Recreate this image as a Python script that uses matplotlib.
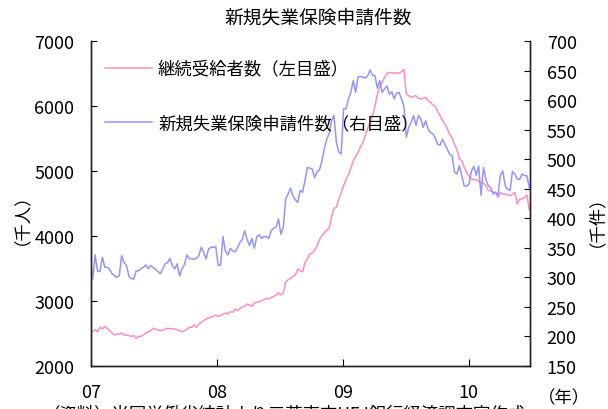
import matplotlib

matplotlib.use("Agg")

import matplotlib.pyplot as plt
import matplotlib.dates as mdates
import pandas as pd
from matplotlib.ticker import FixedLocator

plt.rcParams["font.family"] = ["Noto Sans CJK JP", "DejaVu Sans"]

# 週次データ（2006/12/30 週～2010/6/26 週）
# 継続受給者数（千人）
continuing_07 = [2528, 2528, 2559, 2528, 2595, 2569, 2610, 2580, 2544, 2508,
                 2477, 2492, 2492, 2508, 2477, 2477, 2467, 2456, 2467, 2426,
                 2456, 2456, 2477, 2508, 2528, 2544, 2580, 2569, 2555, 2544,
                 2550, 2569, 2580, 2575, 2569, 2569, 2559, 2544, 2528, 2544,
                 2559, 2595, 2595, 2631, 2595, 2646, 2672, 2700, 2723, 2740,
                 2749, 2764, 2785]
continuing_08 = [2764, 2774, 2800, 2815, 2800, 2836, 2826, 2877, 2851, 2887,
                 2903, 2918, 2954, 2938, 2918, 2969, 2980, 2990, 3005, 3021,
                 3041, 3031, 3056, 3072, 3092, 3123, 3092, 3123, 3290, 3330,
                 3349, 3380, 3400, 3492, 3467, 3451, 3590, 3650, 3720, 3745,
                 3780, 3850, 3940, 4010, 4050, 4090, 4118, 4300, 4426, 4441,
                 4569, 4672]
continuing_09 = [4774, 4870, 4940, 5041, 5150, 5230, 5290, 5370, 5441, 5550,
                 5660, 5740, 5850, 6000, 6180, 6290, 6364, 6440, 6500, 6518,
                 6508, 6500, 6518, 6500, 6528, 6559, 6185, 6159, 6133, 6149,
                 6159, 6118, 6108, 6118, 6133, 6082, 6056, 6015, 5995, 5913,
                 5851, 5774, 5723, 5650, 5560, 5510, 5400, 5330, 5185, 5159,
                 5056, 4979]
continuing_10 = [4918, 4877, 4867, 4867, 4836, 4815, 4815, 4774, 4697, 4697,
                 4672, 4672, 4595, 4672, 4646, 4646, 4631, 4621, 4640, 4672,
                 4492, 4569, 4569, 4595, 4631, 4405]

# 新規失業保険申請件数（千件）
initial_07 = [331, 297, 338, 310, 310, 334, 317, 317, 314, 306,
              303, 300, 303, 337, 325, 320, 302, 298, 297, 311,
              311, 315, 317, 321, 315, 320, 317, 314, 310, 306,
              314, 323, 325, 332, 320, 314, 323, 302, 314, 321,
              338, 332, 331, 331, 332, 337, 351, 342, 331, 348,
              351, 351, 352]
initial_08 = [320, 321, 369, 345, 338, 349, 345, 343, 350, 359,
              364, 379, 364, 354, 366, 349, 369, 372, 366, 369,
              369, 366, 379, 383, 385, 399, 373, 385, 433, 441,
              451, 438, 431, 427, 447, 444, 464, 486, 485, 483,
              469, 479, 482, 497, 517, 534, 543, 565, 574, 529,
              512, 509]
initial_09 = [585, 585, 602, 613, 633, 613, 639, 640, 639, 637,
              641, 651, 642, 641, 620, 633, 613, 619, 624, 610,
              614, 602, 612, 613, 602, 590, 537, 554, 562, 574,
              557, 574, 568, 554, 565, 551, 545, 543, 536, 525,
              524, 534, 525, 517, 508, 506, 478, 475, 489, 472,
              455, 454]
initial_10 = [458, 480, 488, 473, 488, 439, 486, 466, 455, 452,
              441, 444, 439, 473, 480, 455, 449, 447, 479, 475,
              466, 466, 475, 472, 472, 452]

continuing = continuing_07 + continuing_08 + continuing_09 + continuing_10
initial = initial_07 + initial_08 + initial_09 + initial_10
weeks = pd.date_range("2006-12-30", periods=len(continuing), freq="7D")

year_ticks = pd.to_datetime(["2007-01-01", "2008-01-01", "2009-01-01", "2010-01-01"])
year_labels = ["07", "08", "09", "10"]

PINK = "#ff8cc6"
BLUE = "#9494ff"

fig = plt.figure(figsize=(6.08, 4.10), dpi=100)
ax = fig.add_axes([91 / 608, 43 / 410, 439 / 608, 325 / 410])
ax2 = ax.twinx()

line_c, = ax.plot(weeks, continuing, color=PINK, lw=1.1)
line_i, = ax2.plot(weeks, initial, color=BLUE, lw=1.1)

ax.set_xlim(pd.Timestamp("2007-01-01"), pd.Timestamp("2010-06-28"))
ax.set_ylim(2000, 7000)
ax2.set_ylim(150, 700)

ax.xaxis.set_major_locator(FixedLocator(mdates.date2num(year_ticks)))
ax.set_xticklabels(year_labels)
ax.set_yticks(range(2000, 7001, 1000))
ax2.set_yticks(range(150, 701, 50))

for a in (ax, ax2):
    a.spines["top"].set_visible(False)
    for s in ("left", "right", "bottom"):
        a.spines[s].set_linewidth(1.0)
        a.spines[s].set_color("#222222")

ax.tick_params(axis="x", direction="in", length=5, pad=12, labelsize=13)
ax.tick_params(axis="y", direction="in", length=4, pad=12, labelsize=13)
ax2.tick_params(axis="y", direction="in", length=4, pad=12, labelsize=13)

ax2.legend(
    [line_c, line_i],
    ["継続受給者数（左目盛）", "新規失業保険申請件数（右目盛）"],
    loc="upper left",
    bbox_to_anchor=(0.032, 0.94),
    frameon=False,
    fontsize=12.5,
    handlelength=2.7,
    handletextpad=0.35,
    labelspacing=2.05,
    borderpad=0,
    borderaxespad=0,
)

fig.text(318 / 608, 1 - 18 / 410, "新規失業保険申請件数", ha="center", va="center", fontsize=13.5)
fig.text(13 / 608, 1 - 210 / 410, "（千人）", ha="center", va="center", rotation=90, fontsize=12.5)
fig.text(587 / 608, 1 - 212 / 410, "（千件）", ha="center", va="center", rotation=90, fontsize=12.5)
fig.text(564 / 608, 1 - 398 / 410, "（年）", ha="center", va="center", fontsize=12.5)
fig.text(43 / 608, 1 - 405 / 410, "（資料）米国労働省統計より三菱東京UFJ銀行経済調査室作成",
         ha="left", va="top", fontsize=12.5)

fig.savefig("out.png", dpi=100)
